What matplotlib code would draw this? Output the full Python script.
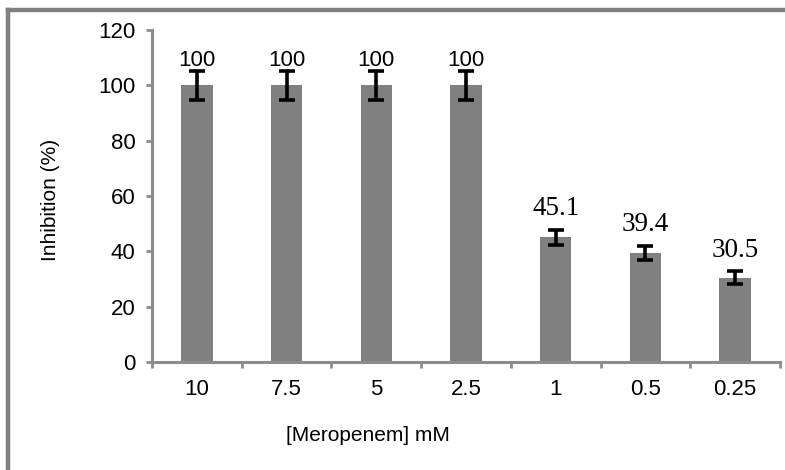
import matplotlib
matplotlib.use('Agg')
import matplotlib.pyplot as plt
from matplotlib.lines import Line2D
import numpy as np

# datos
concentraciones = ['10', '7.5', '5', '2.5', '1', '0.5', '0.25']
inhibicion = [100, 100, 100, 100, 45.1, 39.4, 30.5]
errores = [5.2, 5.2, 5.2, 5.2, 2.8, 2.7, 2.3]
etiquetas = ['100', '100', '100', '100', '45.1', '39.4', '30.5']

gris = '#808080'
gris_eje = '#8c8c8c'

plt.rcParams['font.family'] = ['Liberation Sans', 'DejaVu Sans']

fig = plt.figure(figsize=(7.85, 4.70), dpi=100)
ax = fig.add_axes([0.1936, 0.2298, 0.80, 0.7062])

x = np.arange(len(concentraciones))
ax.bar(x, inhibicion, width=0.35, color=gris, zorder=2)
ax.errorbar(x, inhibicion, yerr=errores, fmt='none', ecolor='black',
            elinewidth=2.6, capsize=5.5, capthick=2.6, zorder=3)

for xi, v, e, txt in zip(x, inhibicion, errores, etiquetas):
    if txt == '100':
        ax.annotate(txt, (xi, v + e), xytext=(0, 0), textcoords='offset points',
                    ha='center', va='bottom', fontsize=16)
    else:
        ax.annotate(txt, (xi, v + e), xytext=(0, 6), textcoords='offset points',
                    ha='center', va='bottom', fontsize=19.5,
                    family=['Liberation Serif', 'DejaVu Serif'])

ax.set_xlim(-0.5, len(concentraciones) - 0.5)
ax.set_ylim(0, 120)
ax.set_yticks(range(0, 121, 20))
ax.set_xticks(x)
ax.set_xticklabels(concentraciones)
ax.set_xticks(np.arange(-0.5, len(concentraciones)), minor=True)

for s in ['top', 'right']:
    ax.spines[s].set_visible(False)
for s in ['left', 'bottom']:
    ax.spines[s].set_color(gris_eje)
    ax.spines[s].set_linewidth(2.2)

ax.tick_params(axis='y', direction='out', length=4, width=2, color=gris_eje,
               labelsize=16, pad=8)
ax.tick_params(axis='x', which='major', length=0, labelsize=16, pad=12)
ax.tick_params(axis='x', which='minor', direction='out', length=4, width=2,
               color=gris_eje)

fig.text(0.064, 0.574, 'Inhibition (%)', rotation=90, ha='center', va='center',
         fontsize=15)
fig.text(0.469, 0.074, '[Meropenem] mM', ha='center', va='center', fontsize=15)

# marco gris de la figura (solo arriba e izquierda)
fig.add_artist(Line2D([0.0108, 1.0], [0.9787, 0.9787], transform=fig.transFigure,
                      color=gris, linewidth=3.2))
fig.add_artist(Line2D([0.0108, 0.0108], [0.0, 0.9787], transform=fig.transFigure,
                      color=gris, linewidth=3.2))

fig.savefig('out.png', dpi=100)
